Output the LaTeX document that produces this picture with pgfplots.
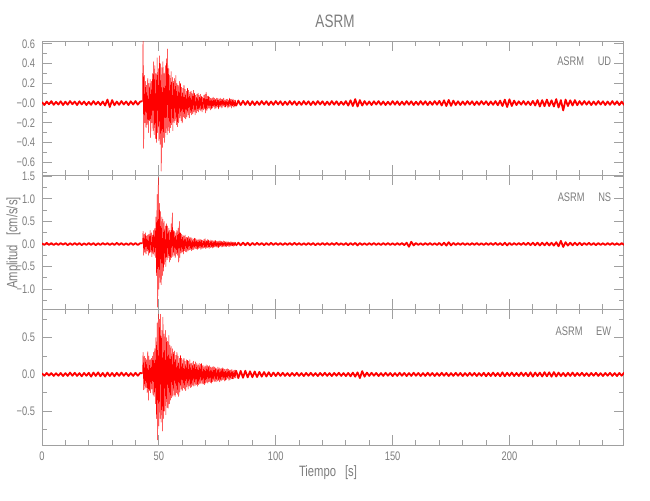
\documentclass[border=0pt]{standalone}
\usepackage{pgfplots}
\pgfplotsset{compat=1.18}
\usepackage{pgfplotstable}
\usepackage{fontspec}
\setmainfont{Liberation Sans}[FakeStretch=0.75]
\definecolor{axgray}{RGB}{160,160,160}
\definecolor{txtgray}{RGB}{125,125,125}

% ---------- UD ----------
\pgfplotstableread[header=false,row sep=\\]{
0.01\\ -0.02\\ 0.015\\ -0.012\\ 0.02\\ -0.018\\ 0.012\\ -0.015\\ 0.018\\ -0.02\\
0.014\\ -0.016\\ 0.02\\ -0.012\\ 0.015\\ -0.02\\ 0.018\\ -0.014\\ 0.016\\ -0.02\\
0.012\\ -0.018\\ 0.02\\ -0.015\\ 0.014\\ -0.02\\ 0.016\\ -0.025\\ 0.035\\ -0.04\\
0.03\\ -0.022\\ 0.015\\ -0.018\\ 0.02\\ -0.014\\ 0.016\\ -0.02\\ 0.018\\ -0.015\\
0.02\\ -0.016\\ 0.014\\ 0.02\\
}\udA
\pgfplotstableread[header=false,row sep=\\]{
0.02\\ 0.7\\ -0.46\\ 0.28\\ -0.2\\ 0.22\\ -0.25\\ 0.18\\
-0.22\\ 0.25\\ -0.3\\ 0.2\\ -0.18\\ 0.24\\ -0.35\\ 0.22\\
-0.2\\ 0.3\\ -0.28\\ 0.42\\ -0.32\\ 0.38\\ -0.36\\ 0.3\\
-0.4\\ 0.46\\ -0.3\\ 0.35\\ -0.38\\ 0.48\\ -0.42\\ 0.4\\
-0.69\\ 0.36\\ -0.45\\ 0.42\\ -0.35\\ 0.3\\ -0.4\\ 0.38\\
-0.3\\ 0.45\\ -0.32\\ 0.55\\ -0.28\\ 0.35\\ -0.3\\ 0.28\\
-0.25\\ 0.32\\ -0.22\\ 0.26\\ -0.28\\ 0.22\\ -0.2\\ 0.25\\
-0.18\\ 0.28\\ -0.22\\ 0.2\\ -0.24\\ 0.18\\ -0.2\\ 0.22\\
-0.15\\ 0.2\\ -0.18\\ 0.16\\ -0.2\\ 0.15\\ -0.14\\ 0.18\\
-0.15\\ 0.14\\ -0.16\\ 0.12\\ -0.14\\ 0.15\\ -0.12\\ 0.13\\
-0.15\\ 0.11\\ -0.1\\ 0.12\\ -0.12\\ 0.1\\ -0.11\\ 0.13\\
-0.09\\ 0.1\\ -0.12\\ 0.08\\ -0.1\\ 0.09\\ -0.08\\ 0.1\\
-0.09\\ 0.08\\ -0.07\\ 0.09\\ -0.08\\ 0.07\\ -0.09\\ 0.06\\
-0.07\\ 0.08\\ -0.06\\ 0.09\\ -0.1\\ 0.11\\ -0.08\\ 0.07\\
-0.06\\ 0.07\\ -0.05\\ 0.06\\ -0.07\\ 0.05\\ -0.06\\ 0.05\\
-0.05\\ 0.06\\ -0.04\\ 0.05\\ -0.06\\ 0.04\\ -0.05\\ 0.05\\
-0.04\\ 0.05\\ -0.06\\ 0.04\\ -0.04\\ 0.05\\ -0.04\\ 0.04\\
-0.05\\ 0.04\\ -0.03\\ 0.05\\ -0.04\\ 0.03\\ -0.04\\ 0.04\\
-0.03\\ 0.04\\ -0.05\\ 0.03\\ -0.04\\ 0.05\\ -0.03\\ 0.04\\
-0.05\\ 0.04\\ -0.03\\ 0.04\\ -0.04\\ 0.03\\ -0.04\\ 0.03\\
-0.03\\
}\udB
\pgfplotstableread[header=false,row sep=\\]{
-0.03\\ 0.025\\ -0.02\\ 0.022\\ -0.018\\ 0.02\\ -0.022\\ 0.018\\ -0.02\\ 0.016\\
-0.018\\ 0.02\\ -0.015\\ 0.018\\ -0.02\\ 0.016\\ -0.018\\ 0.02\\ -0.014\\ 0.018\\
-0.02\\ 0.015\\ -0.018\\ 0.02\\ -0.016\\ 0.018\\ -0.02\\ 0.014\\ -0.018\\ 0.02\\
-0.015\\ 0.018\\ -0.02\\ 0.016\\ -0.018\\ 0.02\\ -0.014\\ 0.018\\ -0.02\\ 0.015\\
-0.018\\ 0.02\\ -0.016\\ 0.018\\ -0.02\\ 0.014\\ -0.018\\ 0.02\\ -0.025\\ 0.028\\
-0.03\\ 0.04\\ -0.035\\ 0.03\\ -0.025\\ 0.02\\ -0.018\\ 0.016\\ -0.02\\ 0.018\\
-0.015\\ 0.02\\ -0.018\\ 0.016\\ -0.02\\ 0.014\\ -0.018\\ 0.02\\ -0.016\\ 0.018\\
-0.02\\ 0.015\\ -0.018\\ 0.02\\ -0.016\\ 0.018\\ -0.02\\ 0.014\\ -0.018\\ 0.02\\
-0.016\\ 0.018\\ -0.02\\ 0.015\\ -0.018\\ 0.02\\ -0.016\\ 0.022\\ -0.025\\ 0.028\\
-0.03\\ 0.032\\ -0.028\\ 0.025\\ -0.02\\ 0.018\\ -0.02\\ 0.016\\ -0.018\\ 0.02\\
-0.015\\ 0.018\\ -0.02\\ 0.016\\ -0.018\\ 0.02\\ -0.014\\ 0.018\\ -0.02\\ 0.016\\
-0.018\\ 0.02\\ -0.022\\ 0.025\\ -0.03\\ 0.035\\ -0.04\\ 0.038\\ -0.03\\ 0.025\\
-0.02\\ 0.018\\ -0.016\\ 0.02\\ -0.018\\ 0.016\\ -0.02\\ 0.022\\ -0.025\\ 0.03\\
-0.035\\ 0.03\\ -0.032\\ 0.035\\ -0.03\\ 0.028\\ -0.035\\ 0.04\\ -0.045\\ 0.03\\
-0.075\\ 0.035\\ -0.03\\ 0.028\\ -0.025\\ 0.03\\ -0.022\\ 0.02\\ -0.018\\ 0.02\\
-0.016\\ 0.018\\ -0.02\\ 0.016\\ -0.018\\ 0.02\\ -0.015\\ 0.018\\ -0.02\\ 0.016\\
-0.018\\ 0.02\\ -0.016\\ 0.018\\ -0.02\\ 0.015\\ -0.018\\ 0.02\\ -0.016\\ 0.018\\
}\udC

% ---------- NS ----------
\pgfplotstableread[header=false,row sep=\\]{
0.015\\ -0.02\\ 0.025\\ -0.018\\ 0.02\\ -0.022\\ 0.018\\ -0.02\\ 0.022\\ -0.015\\
0.02\\ -0.025\\ 0.018\\ -0.02\\ 0.022\\ -0.018\\ 0.02\\ -0.024\\ 0.016\\ -0.02\\
0.022\\ -0.018\\ 0.02\\ -0.025\\ 0.018\\ -0.02\\ 0.022\\ -0.016\\ 0.02\\ -0.022\\
0.018\\ -0.02\\ 0.025\\ -0.018\\ 0.02\\ -0.022\\ 0.016\\ -0.02\\ 0.024\\ -0.018\\
0.02\\ -0.022\\ 0.018\\ 0.02\\
}\nsA
\pgfplotstableread[header=false,row sep=\\]{
0.02\\ 0.28\\ -0.25\\ 0.22\\ -0.18\\ 0.25\\ -0.22\\ 0.18\\
-0.15\\ 0.2\\ -0.25\\ 0.22\\ -0.2\\ 0.3\\ -0.18\\ 0.25\\
-0.28\\ 0.2\\ -0.22\\ 0.3\\ -0.25\\ 0.35\\ -0.3\\ 0.6\\
-0.7\\ 1.1\\ -1.4\\ 1.47\\ -1.0\\ 0.9\\ -0.85\\ 0.72\\
-0.9\\ 0.6\\ -0.7\\ 0.55\\ -0.6\\ 0.5\\ -0.45\\ 0.4\\
-0.5\\ 0.45\\ -0.35\\ 0.4\\ -0.3\\ 0.35\\ -0.4\\ 0.3\\
-0.35\\ 0.45\\ -0.3\\ 0.69\\ -0.28\\ 0.3\\ -0.25\\ 0.28\\
-0.3\\ 0.25\\ -0.22\\ 0.3\\ -0.25\\ 0.35\\ -0.4\\ 0.5\\
-0.3\\ 0.25\\ -0.2\\ 0.22\\ -0.18\\ 0.2\\ -0.22\\ 0.18\\
-0.15\\ 0.2\\ -0.17\\ 0.15\\ -0.18\\ 0.14\\ -0.15\\ 0.17\\
-0.13\\ 0.15\\ -0.12\\ 0.14\\ -0.15\\ 0.12\\ -0.13\\ 0.11\\
-0.12\\ 0.13\\ -0.1\\ 0.12\\ -0.11\\ 0.1\\ -0.12\\ 0.09\\
-0.1\\ 0.11\\ -0.09\\ 0.1\\ -0.12\\ 0.09\\ -0.1\\ 0.08\\
-0.09\\ 0.1\\ -0.08\\ 0.12\\ -0.1\\ 0.08\\ -0.09\\ 0.1\\
-0.08\\ 0.09\\ -0.1\\ 0.07\\ -0.08\\ 0.09\\ -0.07\\ 0.08\\
-0.09\\ 0.07\\ -0.08\\ 0.07\\ -0.06\\ 0.08\\ -0.07\\ 0.06\\
-0.07\\ 0.06\\ -0.08\\ 0.07\\ -0.06\\ 0.07\\ -0.05\\ 0.06\\
-0.07\\ 0.05\\ -0.06\\ 0.07\\ -0.05\\ 0.06\\ -0.05\\ 0.05\\
-0.06\\ 0.05\\ -0.04\\ 0.05\\ -0.06\\ 0.04\\ -0.05\\ 0.05\\
-0.04\\ 0.05\\ -0.04\\ 0.04\\ -0.05\\ 0.04\\ -0.04\\ 0.04\\
-0.03\\
}\nsB
\pgfplotstableread[header=false,row sep=\\]{
-0.035\\ 0.03\\ -0.028\\ 0.03\\ -0.025\\ 0.028\\ -0.03\\ 0.025\\ -0.022\\ 0.025\\
-0.02\\ 0.022\\ -0.025\\ 0.02\\ -0.022\\ 0.025\\ -0.02\\ 0.022\\ -0.018\\ 0.02\\
-0.022\\ 0.02\\ -0.018\\ 0.022\\ -0.02\\ 0.025\\ -0.018\\ 0.02\\ -0.022\\ 0.018\\
-0.02\\ 0.022\\ -0.018\\ 0.02\\ -0.025\\ 0.018\\ -0.02\\ 0.022\\ -0.018\\ 0.02\\
-0.022\\ 0.02\\ -0.018\\ 0.025\\ -0.02\\ 0.018\\ -0.022\\ 0.02\\ -0.025\\ 0.022\\
-0.02\\ 0.025\\ -0.03\\ 0.022\\ -0.02\\ 0.018\\ -0.022\\ 0.02\\ -0.018\\ 0.022\\
-0.02\\ 0.018\\ -0.022\\ 0.02\\ -0.018\\ 0.022\\ -0.02\\ 0.018\\ -0.022\\ 0.02\\
-0.018\\ 0.022\\ -0.025\\ 0.03\\ -0.06\\ 0.05\\ -0.03\\ 0.022\\ -0.02\\ 0.018\\
-0.022\\ 0.02\\ -0.018\\ 0.022\\ -0.02\\ 0.018\\ -0.022\\ 0.025\\ -0.028\\ 0.03\\
-0.035\\ 0.04\\ -0.03\\ 0.025\\ -0.022\\ 0.02\\ -0.018\\ 0.022\\ -0.02\\ 0.018\\
-0.022\\ 0.02\\ -0.018\\ 0.022\\ -0.02\\ 0.018\\ -0.022\\ 0.02\\ -0.018\\ 0.022\\
-0.02\\ 0.025\\ -0.022\\ 0.02\\ -0.025\\ 0.028\\ -0.03\\ 0.025\\ -0.022\\ 0.02\\
-0.018\\ 0.022\\ -0.02\\ 0.025\\ -0.022\\ 0.028\\ -0.025\\ 0.03\\ -0.028\\ 0.03\\
-0.032\\ 0.03\\ -0.028\\ 0.032\\ -0.03\\ 0.028\\ -0.035\\ 0.04\\ -0.05\\ 0.07\\
-0.065\\ 0.04\\ -0.035\\ 0.03\\ -0.028\\ 0.03\\ -0.025\\ 0.028\\ -0.025\\ 0.022\\
-0.02\\ 0.025\\ -0.022\\ 0.02\\ -0.025\\ 0.022\\ -0.02\\ 0.018\\ -0.022\\ 0.02\\
-0.018\\ 0.022\\ -0.02\\ 0.018\\ -0.022\\ 0.02\\ -0.018\\ 0.022\\ -0.02\\ 0.018\\
}\nsC

% ---------- EW ----------
\pgfplotstableread[header=false,row sep=\\]{
0.015\\ -0.018\\ 0.02\\ -0.015\\ 0.018\\ -0.02\\ 0.016\\ -0.018\\ 0.02\\ -0.022\\
0.018\\ -0.02\\ 0.025\\ -0.018\\ 0.022\\ -0.02\\ 0.018\\ -0.025\\ 0.02\\ -0.018\\
0.022\\ -0.03\\ 0.025\\ -0.02\\ 0.028\\ -0.025\\ 0.02\\ -0.03\\ 0.025\\ -0.022\\
0.02\\ -0.025\\ 0.022\\ -0.02\\ 0.025\\ -0.018\\ 0.02\\ -0.022\\ 0.018\\ -0.02\\
0.022\\ -0.018\\ 0.02\\ 0.015\\
}\ewA
\pgfplotstableread[header=false,row sep=\\]{
0.01\\ 0.3\\ -0.21\\ 0.25\\ -0.2\\ 0.22\\ -0.18\\ 0.2\\
-0.25\\ 0.31\\ -0.35\\ 0.25\\ -0.22\\ 0.2\\ -0.25\\ 0.22\\
-0.2\\ 0.25\\ -0.28\\ 0.3\\ -0.3\\ 0.35\\ -0.4\\ 0.5\\
-0.6\\ 0.7\\ -0.89\\ 0.82\\ -0.7\\ 0.75\\ -0.6\\ 0.82\\
-0.65\\ 0.6\\ -0.77\\ 0.78\\ -0.6\\ 0.55\\ -0.5\\ 0.6\\
-0.55\\ 0.5\\ -0.45\\ 0.45\\ -0.46\\ 0.53\\ -0.4\\ 0.4\\
-0.35\\ 0.38\\ -0.32\\ 0.35\\ -0.3\\ 0.3\\ -0.28\\ 0.32\\
-0.3\\ 0.26\\ -0.25\\ 0.3\\ -0.27\\ 0.25\\ -0.3\\ 0.22\\
-0.24\\ 0.26\\ -0.2\\ 0.22\\ -0.22\\ 0.2\\ -0.18\\ 0.22\\
-0.2\\ 0.18\\ -0.22\\ 0.2\\ -0.17\\ 0.19\\ -0.2\\ 0.18\\
-0.16\\ 0.2\\ -0.18\\ 0.15\\ -0.17\\ 0.16\\ -0.15\\ 0.18\\
-0.16\\ 0.14\\ -0.15\\ 0.17\\ -0.14\\ 0.15\\ -0.16\\ 0.13\\
-0.14\\ 0.15\\ -0.13\\ 0.14\\ -0.12\\ 0.15\\ -0.13\\ 0.12\\
-0.13\\ 0.12\\ -0.14\\ 0.11\\ -0.12\\ 0.13\\ -0.11\\ 0.12\\
-0.12\\ 0.11\\ -0.1\\ 0.12\\ -0.11\\ 0.1\\ -0.12\\ 0.1\\
-0.1\\ 0.11\\ -0.09\\ 0.1\\ -0.1\\ 0.09\\ -0.1\\ 0.08\\
-0.09\\ 0.1\\ -0.08\\ 0.09\\ -0.1\\ 0.08\\ -0.09\\ 0.08\\
-0.08\\ 0.09\\ -0.07\\ 0.08\\ -0.09\\ 0.07\\ -0.08\\ 0.07\\
-0.07\\ 0.08\\ -0.06\\ 0.07\\ -0.08\\ 0.06\\ -0.07\\ 0.06\\
-0.06\\ 0.07\\ -0.06\\ 0.05\\ -0.06\\ 0.06\\ -0.05\\ 0.06\\
-0.05\\
}\ewB
\pgfplotstableread[header=false,row sep=\\]{
0.055\\ -0.05\\ 0.048\\ -0.045\\ 0.05\\ -0.04\\ 0.042\\ -0.038\\ 0.04\\ -0.035\\
0.035\\ -0.03\\ 0.032\\ -0.028\\ 0.03\\ -0.025\\ 0.025\\ -0.022\\ 0.025\\ -0.02\\
0.022\\ -0.02\\ 0.018\\ -0.022\\ 0.02\\ -0.018\\ 0.022\\ -0.02\\ 0.018\\ -0.022\\
0.02\\ -0.018\\ 0.022\\ -0.02\\ 0.018\\ -0.022\\ 0.02\\ -0.018\\ 0.022\\ -0.02\\
0.018\\ -0.022\\ 0.02\\ -0.018\\ 0.022\\ -0.02\\ 0.018\\ -0.022\\ 0.02\\ -0.025\\
0.025\\ -0.03\\ 0.028\\ -0.05\\ 0.045\\ -0.03\\ 0.025\\ -0.02\\ 0.022\\ -0.018\\
0.02\\ -0.022\\ 0.018\\ -0.02\\ 0.022\\ -0.018\\ 0.02\\ -0.022\\ 0.018\\ -0.02\\
0.022\\ -0.018\\ 0.02\\ -0.022\\ 0.018\\ -0.02\\ 0.022\\ -0.018\\ 0.02\\ -0.022\\
0.018\\ -0.02\\ 0.022\\ -0.018\\ 0.02\\ -0.022\\ 0.018\\ -0.02\\ 0.022\\ -0.018\\
0.02\\ -0.022\\ 0.018\\ -0.02\\ 0.022\\ -0.018\\ 0.02\\ -0.022\\ 0.018\\ -0.02\\
0.022\\ -0.018\\ 0.02\\ -0.022\\ 0.018\\ -0.02\\ 0.022\\ -0.025\\ 0.02\\ -0.022\\
0.025\\ -0.022\\ 0.02\\ -0.025\\ 0.028\\ -0.025\\ 0.022\\ -0.02\\ 0.025\\ -0.022\\
0.02\\ -0.022\\ 0.025\\ -0.02\\ 0.022\\ -0.025\\ 0.028\\ -0.03\\ 0.025\\ -0.022\\
0.025\\ -0.028\\ 0.03\\ -0.025\\ 0.028\\ -0.03\\ 0.032\\ -0.028\\ 0.025\\ -0.022\\
0.02\\ -0.025\\ 0.022\\ -0.02\\ 0.025\\ -0.022\\ 0.02\\ -0.018\\ 0.022\\ -0.02\\
0.018\\ -0.022\\ 0.02\\ -0.018\\ 0.022\\ -0.02\\ 0.018\\ -0.022\\ 0.02\\ -0.018\\
0.022\\ -0.02\\ 0.018\\ -0.022\\ 0.02\\ -0.018\\ 0.022\\ -0.02\\ 0.018\\ -0.022\\
}\ewC

\pgfplotsset{
  seis/.style={
    scale only axis, width=291pt, anchor=south west,
    xmin=0, xmax=249,
    axis line style={axgray, line width=0.5pt},
    every tick/.style={axgray, line width=0.5pt},
    major tick length=5pt, minor tick length=2.5pt,
    tick align=inside,
    xtick={0,50,100,150,200},
    minor xtick={10,20,30,40,60,70,80,90,110,120,130,140,160,170,180,190,210,220,230,240},
    tick label style={font=\fontsize{6.2}{7}\selectfont, text=txtgray},
    /pgf/number format/assume math mode=true,
    clip=true,
  },
  trace/.style={red, line width=0.25pt, line join=round},
  noise/.style={red, line width=0.9pt, line join=round},
}

\begin{document}
\begin{tikzpicture}[x=1pt,y=1pt]
\useasboundingbox (0,0) rectangle (325,250);

% top: UD
\begin{axis}[seis, at={(21pt,162.5pt)}, height=67pt,
  ymin=-0.73, ymax=0.63,
  ytick={-0.6,-0.4,-0.2,0,0.2,0.4,0.6},
  yticklabels={−0.6,−0.4,−0.2,−0.0,0.2,0.4,0.6},
  minor ytick={-0.7,-0.5,-0.3,-0.1,0.1,0.3,0.5},
  xticklabels={}]
\addplot[noise] table[x expr=\coordindex, y index=0] {\udA};
\addplot[trace] table[x expr=43+0.25*\coordindex, y index=0] {\udB};
\addplot[noise] table[x expr=83+\coordindex, y index=0] {\udC};
\end{axis}

% middle: NS
\begin{axis}[seis, at={(21pt,95.5pt)}, height=67pt,
  ymin=-1.44, ymax=1.53,
  ytick={-1,-0.5,0,0.5,1,1.5},
  yticklabels={−1.0,−0.5,0.0,0.5,1.0,1.5},
  minor ytick={-1.25,-0.75,-0.25,0.25,0.75,1.25},
  xticklabels={}]
\addplot[noise] table[x expr=\coordindex, y index=0] {\nsA};
\addplot[trace] table[x expr=43+0.25*\coordindex, y index=0] {\nsB};
\addplot[noise] table[x expr=83+\coordindex, y index=0] {\nsC};
\end{axis}

% bottom: EW
\begin{axis}[seis, at={(21pt,27.5pt)}, height=68pt,
  ymin=-0.96, ymax=0.89,
  ytick={-0.5,0,0.5},
  yticklabels={−0.5,0.0,0.5},
  minor ytick={-0.75,-0.25,0.25,0.75}]
\addplot[noise] table[x expr=\coordindex, y index=0] {\ewA};
\addplot[trace] table[x expr=43+0.25*\coordindex, y index=0] {\ewB};
\addplot[noise] table[x expr=83+\coordindex, y index=0] {\ewC};
\end{axis}

\node[text=txtgray, font=\fontsize{9}{10}\selectfont] at (167.5,239.2) {ASRM};
\node[text=txtgray, font=\fontsize{7.5}{9}\selectfont] at (164,13.7) {Tiempo\hspace{0.6em}[s]};
\node[text=txtgray, font=\fontsize{7.5}{9}\selectfont, rotate=90] at (6.75,128.5) {Amplitud\hspace{0.6em}[cm/s/s]};
\node[text=txtgray, font=\fontsize{6.2}{7}\selectfont, anchor=east, inner sep=0pt] at (305.8,219.3) {ASRM\hspace{1.1em}UD};
\node[text=txtgray, font=\fontsize{6.2}{7}\selectfont, anchor=east, inner sep=0pt] at (305.8,151.5) {ASRM\hspace{1.1em}NS};
\node[text=txtgray, font=\fontsize{6.2}{7}\selectfont, anchor=east, inner sep=0pt] at (305.8,84.5) {ASRM\hspace{1.1em}EW};
\end{tikzpicture}
\end{document}
